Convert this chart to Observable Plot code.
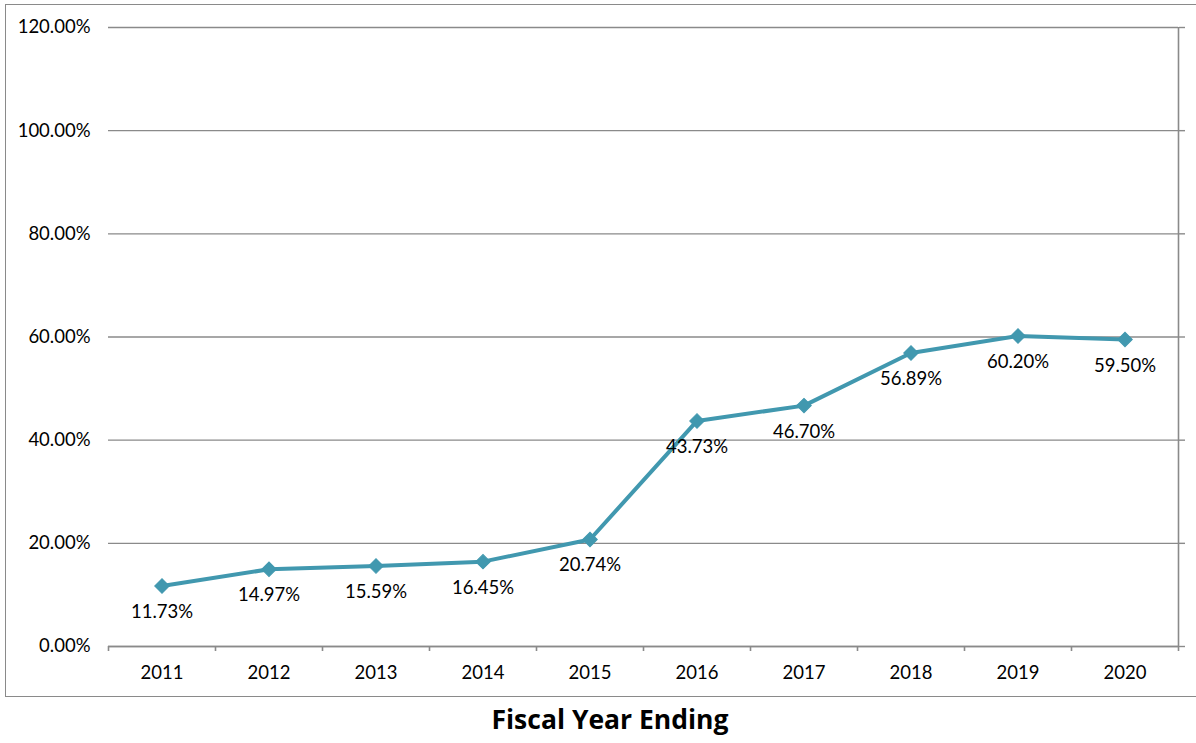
<!DOCTYPE html>
<html>
<head>
<meta charset="utf-8">
<script src="https://cdn.jsdelivr.net/npm/d3@7"></script>
<script src="https://cdn.jsdelivr.net/npm/@observablehq/plot@0.6"></script>
<style>
  html, body { margin: 0; padding: 0; background: #fff; overflow: hidden; }
  #wrap { position: relative; width: 1196px; height: 743px; font-family: Lato, "Open Sans", sans-serif; }
  #border { position: absolute; left: 5px; top: 4px; width: 1200px; height: 691px; border: 1.5px solid #8a8a8a; pointer-events: none; }
  #chart { position: absolute; left: 0; top: 0; }
  #title { position: absolute; left: 610px; top: 704px; transform: translateX(-50%); font-family: "Open Sans", sans-serif; font-weight: bold; font-size: 26.5px; white-space: nowrap; color: #000; line-height: 1.2; }
</style>
</head>
<body>
<div id="wrap">
  <div id="chart"></div>
  <div id="border"></div>
  <div id="title">Fiscal Year Ending</div>
</div>
<script>
const years = [2011, 2012, 2013, 2014, 2015, 2016, 2017, 2018, 2019, 2020];
const rates = [11.73, 14.97, 15.59, 16.45, 20.74, 43.73, 46.70, 56.89, 60.20, 59.50];
const yTicks = [0, 20, 40, 60, 80, 100, 120];

const data = years.map((year, i) => ({ year, rate: rates[i], label: rates[i].toFixed(2) + "%" }));
const bounds = years.map(y => y - 0.5).concat([years[years.length - 1] + 0.5]);
const xmin = bounds[0], xmax = bounds[bounds.length - 1];

const grid = "#8a8a8a";
const lineColor = "#4198af";
const fs = 18.5;

const chart = Plot.plot({
  width: 1196,
  height: 700,
  marginLeft: 108,
  marginRight: 18,
  marginTop: 27,
  marginBottom: 54,
  style: { background: "transparent", fontFamily: "Lato, 'Open Sans', sans-serif", fontSize: fs + "px", color: "#000" },
  x: { type: "linear", domain: [xmin, xmax] },
  y: { domain: [0, 120] },
  marks: [
    Plot.gridY(yTicks, { stroke: grid, strokeOpacity: 1, strokeWidth: 1.4 }),
    Plot.ruleY([0], { stroke: grid, strokeWidth: 1.6 }),
    Plot.ruleX([xmax], { stroke: grid, strokeWidth: 1.6, y1: 0, y2: 120 }),
    Plot.axisY(yTicks, { anchor: "left", tickSize: 0, tickPadding: 18, tickFormat: d => d.toFixed(2) + "%", label: null, fontSize: fs, fill: "#000" }),
    Plot.axisY(yTicks, { anchor: "right", tickSize: 6, tickFormat: () => "", label: null, stroke: grid, strokeWidth: 1.4, strokeOpacity: 1 }),
    Plot.axisX(bounds, { anchor: "bottom", tickSize: 5, tickFormat: () => "", label: null, stroke: grid, strokeWidth: 1.6, strokeOpacity: 1 }),
    Plot.axisX(years, { anchor: "bottom", tickSize: 0, tickPadding: 19, tickFormat: d => String(d), label: null, fontSize: fs, fill: "#000" }),
    Plot.line(data, { x: "year", y: "rate", stroke: lineColor, strokeWidth: 4 }),
    Plot.dot(data, { x: "year", y: "rate", symbol: "square", r: 5.8, rotate: 45, fill: lineColor, stroke: lineColor, strokeWidth: 1 }),
    Plot.text(data, { x: "year", y: "rate", text: "label", dy: 26, fill: "#000", fontSize: fs })
  ]
});
document.getElementById("chart").appendChild(chart);
</script>
</body>
</html>
